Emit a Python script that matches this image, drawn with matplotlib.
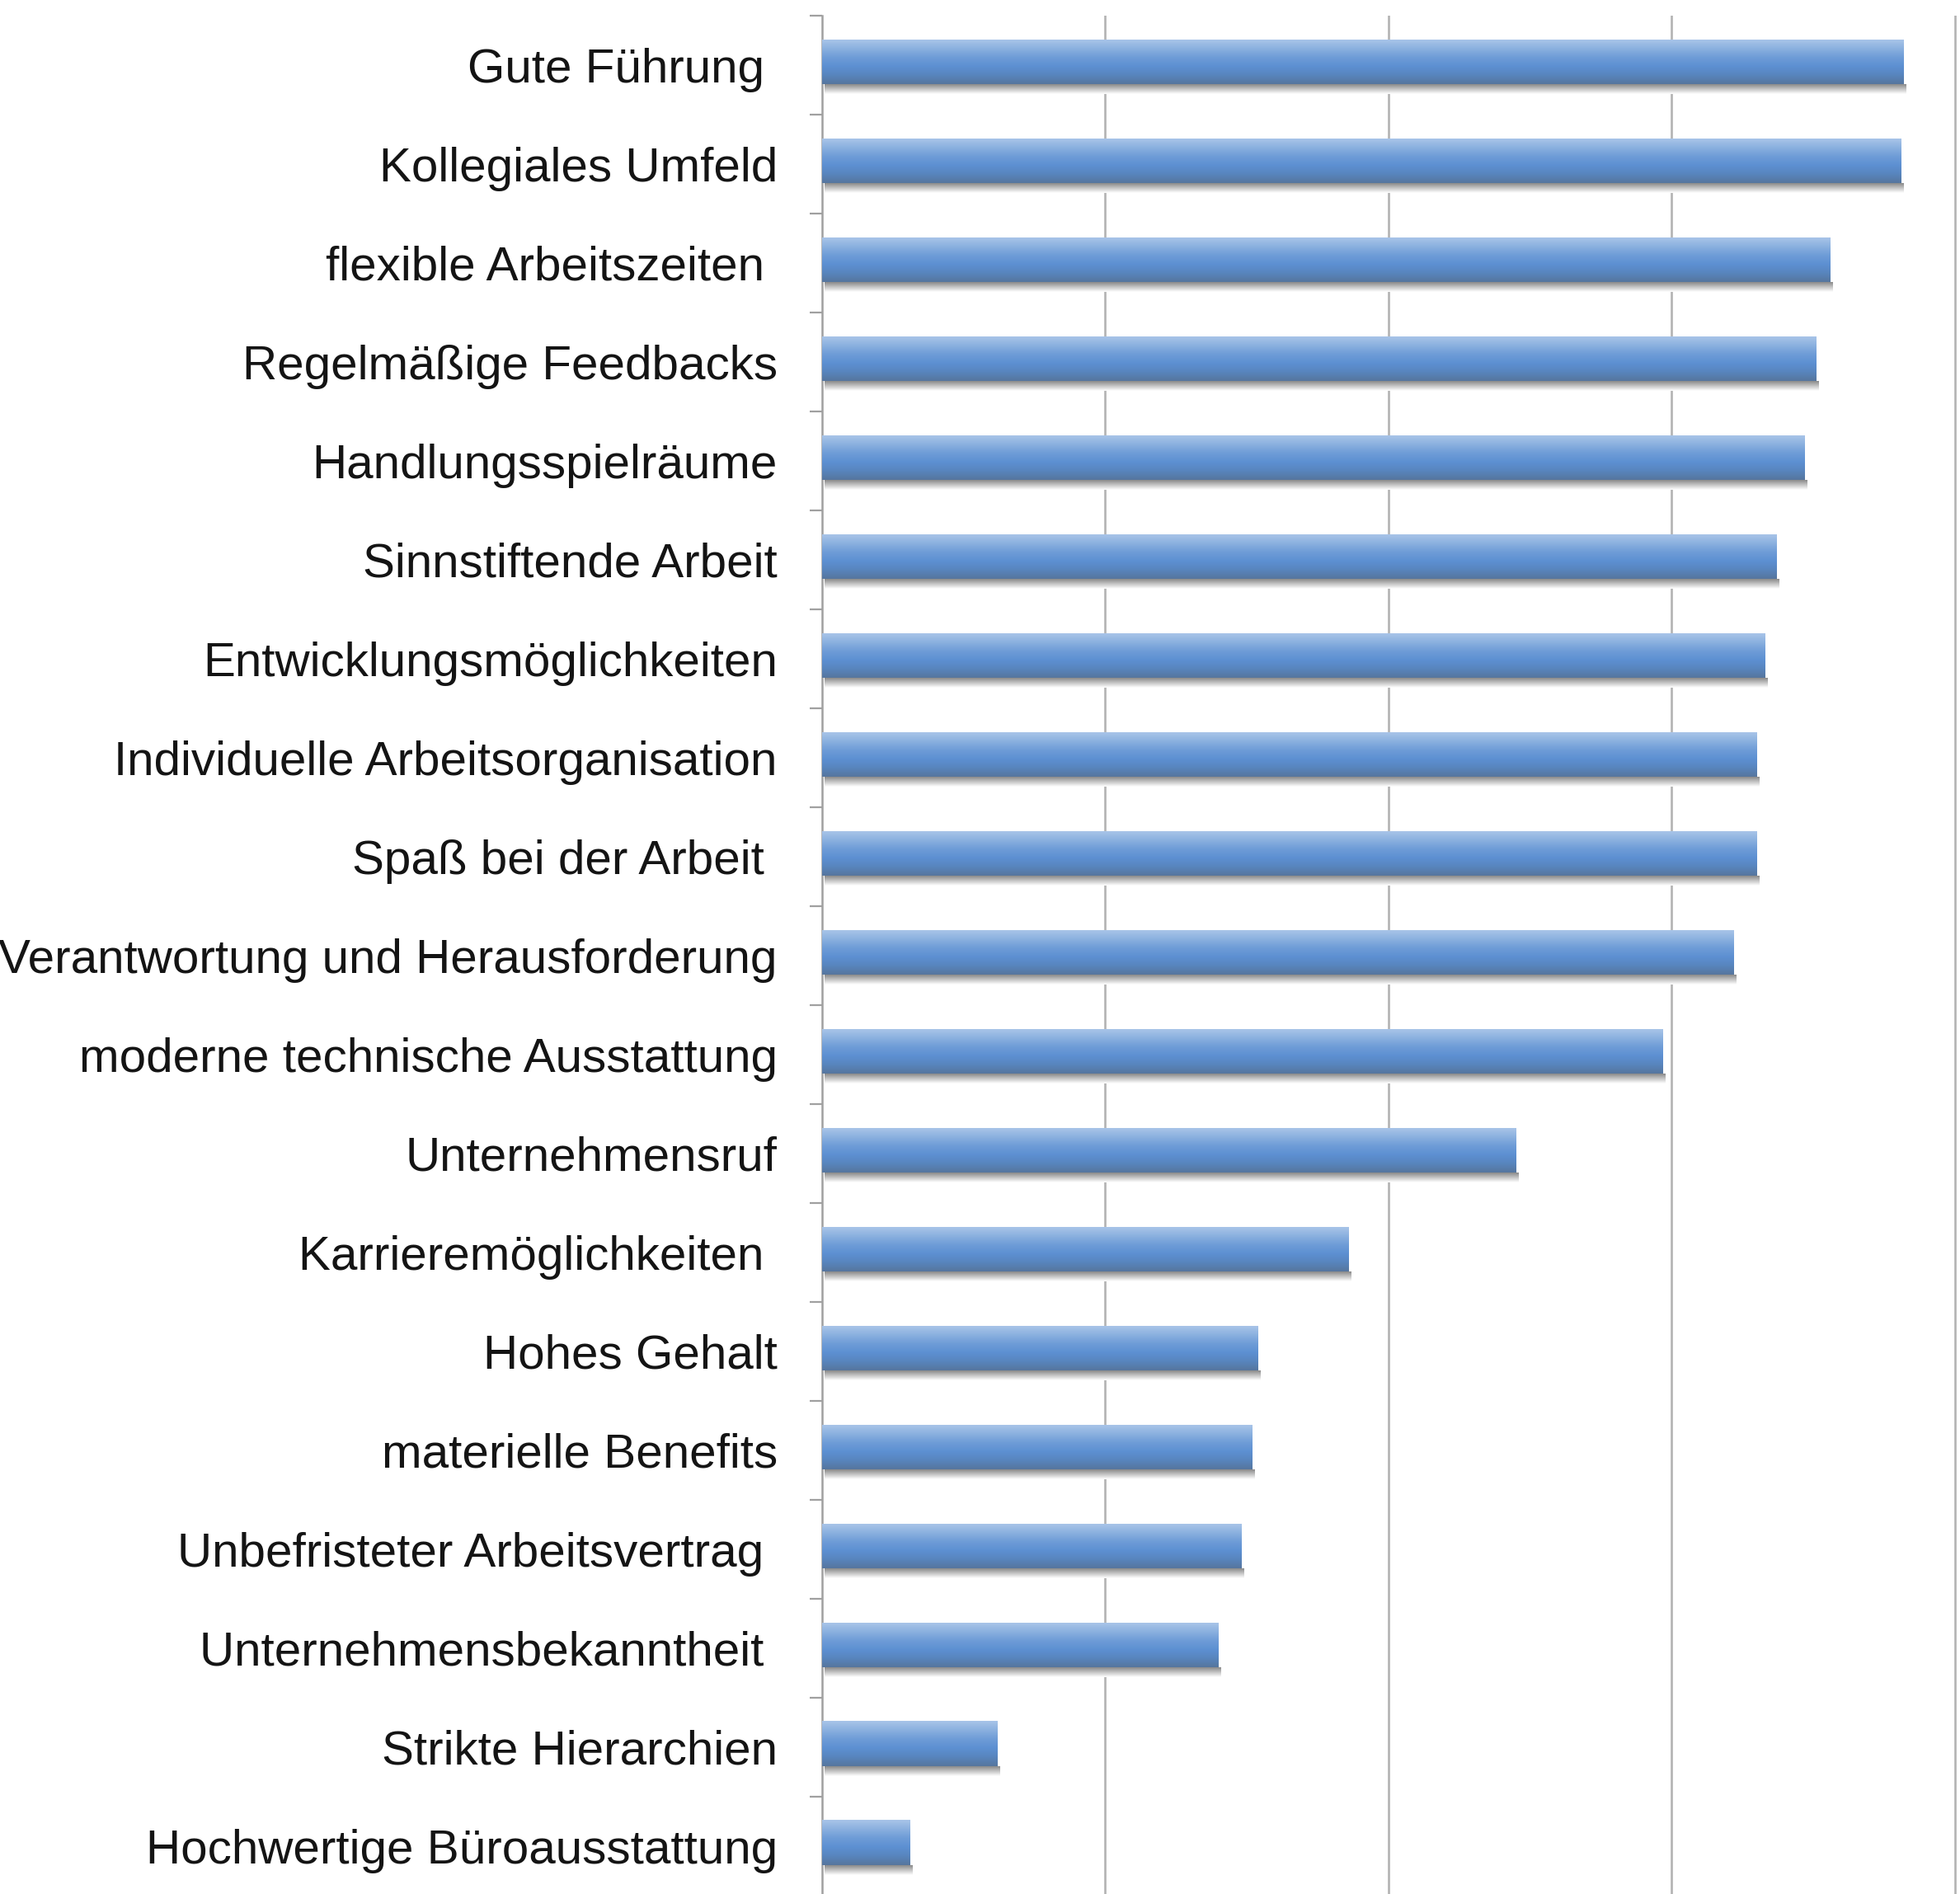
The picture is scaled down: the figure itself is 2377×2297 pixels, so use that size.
import numpy as np
import matplotlib.pyplot as plt
from matplotlib.colors import LinearSegmentedColormap

labels = ["Gute Führung ", "Kollegiales Umfeld", "flexible Arbeitszeiten ",
          "Regelmäßige Feedbacks", "Handlungsspielräume", "Sinnstiftende Arbeit",
          "Entwicklungsmöglichkeiten", "Individuelle Arbeitsorganisation",
          "Spaß bei der Arbeit ", "Verantwortung und Herausforderung",
          "moderne technische Ausstattung", "Unternehmensruf",
          "Karrieremöglichkeiten ", "Hohes Gehalt", "materielle Benefits",
          "Unbefristeter Arbeitsvertrag ", "Unternehmensbekanntheit ",
          "Strikte Hierarchien", "Hochwertige Büroausstattung"]
values = [3.82, 3.81, 3.56, 3.51, 3.47, 3.37, 3.33, 3.30, 3.30, 3.22,
          2.97, 2.45, 1.86, 1.54, 1.52, 1.48, 1.40, 0.62, 0.31]

plt.rcParams['font.family'] = ['Liberation Sans', 'DejaVu Sans']

W, H = 2377, 2297
fig = plt.figure(figsize=(W / 100, H / 100), dpi=100)
ax = fig.add_axes([997 / W, 1 - 2299 / H, 1377 / W, (2299 - 19) / H])

n = len(labels)
ypos = np.arange(n)

# bar gradient: light top -> mid blue -> darker bottom edge
bar_cmap = LinearSegmentedColormap.from_list(
    "bar", ["#a8c4e8", "#8ab0df", "#6e9cd7", "#5d90d2", "#5885be", "#56769e"])
shadow_cmap = LinearSegmentedColormap.from_list(
    "shadow", ["#8a8a8a", "#c4c4c4", "#ffffff"])
grad = np.linspace(0, 1, 64).reshape(-1, 1)

bh = 0.45
off = -0.03
for y, v in zip(ypos, values):
    top = y + off - bh / 2
    bot = y + off + bh / 2
    ax.imshow(grad, cmap=shadow_cmap, aspect='auto', interpolation='bilinear',
              extent=(0.01, v + 0.01, bot + 0.10, bot), zorder=2)
    ax.imshow(grad, cmap=bar_cmap, aspect='auto', interpolation='bilinear',
              extent=(0, v, bot, top), zorder=3)

ax.set_xlim(0, 4.01)
ax.set_ylim(n - 0.5, -0.5)

for x in [1, 2, 3, 4]:
    ax.axvline(x, color='#b3b3b3', lw=1.9, zorder=1)

ax.set_yticks(ypos)
ax.set_yticklabels(labels, fontsize=42, color='#141414')
ax.tick_params(axis='y', which='major', length=0, pad=39)
ax.set_yticks(np.arange(-0.5, n, 1), minor=True)
ax.tick_params(axis='y', which='minor', length=11, width=1.6, color='#a0a0a0')
ax.set_xticks([])

for s in ['top', 'right', 'bottom']:
    ax.spines[s].set_visible(False)
ax.spines['left'].set_color('#a0a0a0')
ax.spines['left'].set_linewidth(1.8)

fig.savefig("out.png", dpi=100)
